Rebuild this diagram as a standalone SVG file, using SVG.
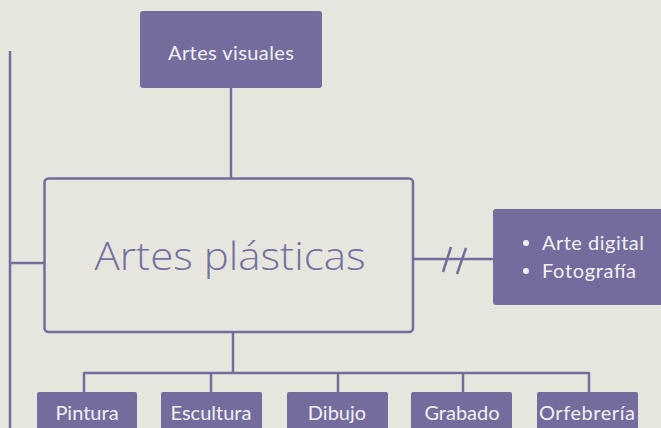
<svg xmlns="http://www.w3.org/2000/svg" width="661" height="428" viewBox="0 0 661 428">
<style>
.fill{fill:#736c9c}
.lbl{font-family:Lato,"Open Sans",sans-serif;font-size:20px;fill:#f2f0f4;text-anchor:middle}
.ln{stroke:#736c9c;stroke-width:2.5;fill:none}
</style>
<rect width="661" height="428" fill="#e6e6de"/>
<g id="connectors">
<path class="ln" d="M10 51V428M10 263H44"/>
<path class="ln" d="M231 88V178"/>
<path class="ln" d="M413 259H493M443 272L451 247M457 274L466 248"/>
<path class="ln" d="M233 332V373M84 373H589M84 372V393M211 372V393M338 372V393M463 372V393M589 372V393"/>
</g>
<g id="artes-visuales">
<rect class="fill" x="140" y="11" width="182" height="77" rx="3"/>
<text class="lbl" x="231" y="60" textLength="126">Artes visuales</text>
</g>
<g id="artes-plasticas">
<rect x="44.5" y="178.5" width="368.5" height="153.5" rx="4" fill="none" stroke="#736c9c" stroke-width="2.5"/>
<text x="230" y="270" font-family="'Open Sans','Noto Sans',sans-serif" font-weight="300" font-size="38" fill="#7570a0" text-anchor="middle" textLength="271" lengthAdjust="spacingAndGlyphs">Artes plásticas</text>
</g>
<g id="otras">
<rect class="fill" x="493" y="209" width="172" height="96" rx="3"/>
<circle cx="526" cy="243" r="3" fill="#f2f0f4"/>
<circle cx="526" cy="271" r="3" fill="#f2f0f4"/>
<text class="lbl" x="542" y="250" style="text-anchor:start" textLength="102">Arte digital</text>
<text class="lbl" x="542" y="278" style="text-anchor:start" textLength="94">Fotografía</text>
</g>
<g id="pintura"><rect class="fill" x="37" y="392" width="100" height="40" rx="2"/><text class="lbl" x="87" y="420">Pintura</text></g>
<g id="escultura"><rect class="fill" x="161" y="392" width="101" height="40" rx="2"/><text class="lbl" x="211" y="420">Escultura</text></g>
<g id="dibujo"><rect class="fill" x="287" y="392" width="101" height="40" rx="2"/><text class="lbl" x="337" y="420">Dibujo</text></g>
<g id="grabado"><rect class="fill" x="411" y="392" width="101" height="40" rx="2"/><text class="lbl" x="462" y="420">Grabado</text></g>
<g id="orfebreria"><rect class="fill" x="537" y="392" width="101" height="40" rx="2"/><text class="lbl" x="587" y="420" textLength="96">Orfebrería</text></g>
</svg>
